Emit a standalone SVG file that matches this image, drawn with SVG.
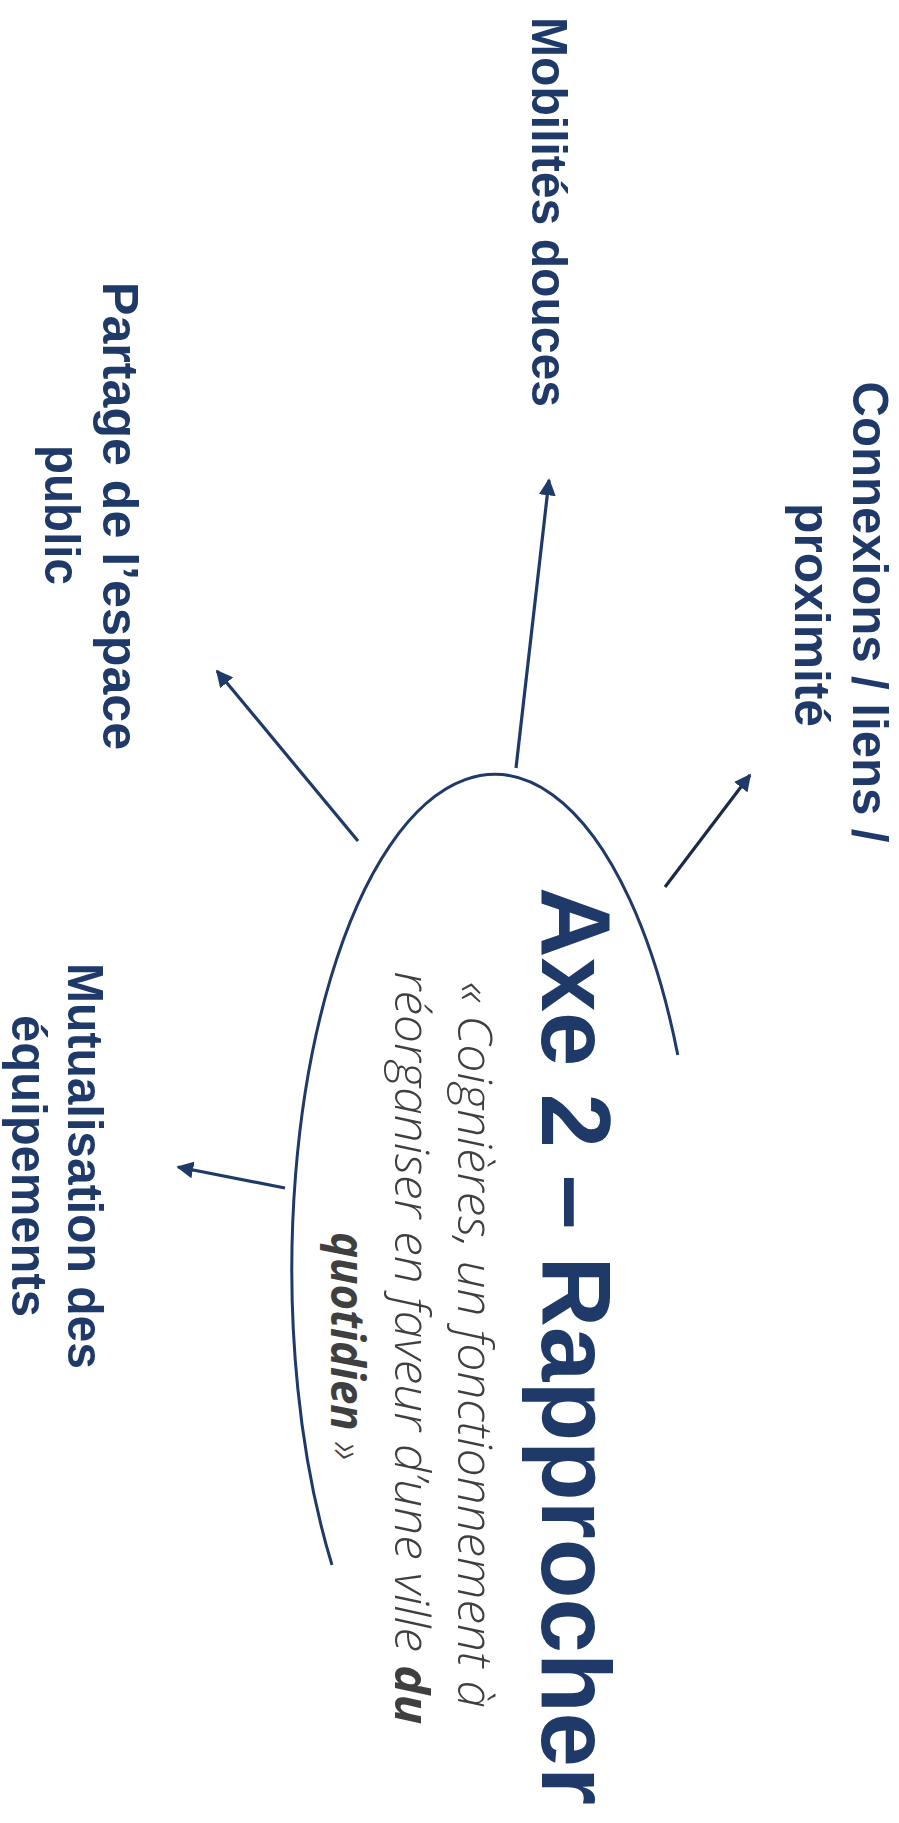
<svg xmlns="http://www.w3.org/2000/svg" width="899" height="1823" viewBox="0 0 899 1823">
  <style>
    .lbl { font-family: "Liberation Sans", Arial, sans-serif; font-weight: bold; font-size: 50px; fill: #1f3a68; text-anchor: middle; }
    .title { font-family: "Liberation Sans", Arial, sans-serif; font-weight: bold; font-size: 99px; fill: #1f3a68; text-anchor: middle; }
    .sub { font-family: "Open Sans", "Noto Sans", sans-serif; font-style: italic; font-weight: 300; font-size: 47px; fill: #3f3f3f; text-anchor: middle; }
    .b { font-weight: bold; }
    .conn { fill: none; stroke: #1f3a68; stroke-width: 3.2; marker-end: url(#arrow); }
    .arc { fill: none; stroke: #1f3a68; stroke-width: 3; }
  </style>
  <defs>
    <marker id="arrow" viewBox="0 0 10 10" refX="9" refY="5" markerWidth="17" markerHeight="17" markerUnits="userSpaceOnUse" orient="auto">
      <path d="M0,0 L10,5 L0,10 z" fill="#1f3a68"/>
    </marker>
  </defs>
  <rect width="899" height="1823" fill="#ffffff"/>

  <g id="center-node">
    <path class="arc" d="M 677.8 1055 A 203 495 0 1 0 332 1565"/>
    <text class="title" transform="translate(542,1346) rotate(90)" textLength="918" lengthAdjust="spacingAndGlyphs">Axe 2 – Rapprocher</text>
    <text class="sub" transform="translate(458,1345) rotate(90)" textLength="726" lengthAdjust="spacingAndGlyphs">« Coignières, un fonctionnement à</text>
    <text class="sub" transform="translate(395,1348) rotate(90)" textLength="753" lengthAdjust="spacingAndGlyphs">réorganiser en faveur d’une ville <tspan class="b">du</tspan></text>
    <text class="sub" transform="translate(331,1346) rotate(90)" textLength="228" lengthAdjust="spacingAndGlyphs"><tspan class="b">quotidien</tspan> »</text>
  </g>

  <g id="node-connexions">
    <text class="lbl" transform="translate(853,612) rotate(90)" textLength="461" lengthAdjust="spacingAndGlyphs">Connexions / liens /</text>
    <text class="lbl" transform="translate(795,615) rotate(90)" textLength="224" lengthAdjust="spacingAndGlyphs">proximité</text>
  </g>

  <g id="node-mobilites">
    <text class="lbl" transform="translate(532,212) rotate(90)" textLength="390" lengthAdjust="spacingAndGlyphs">Mobilités douces</text>
  </g>

  <g id="node-partage">
    <text class="lbl" transform="translate(103,516) rotate(90)" textLength="468" lengthAdjust="spacingAndGlyphs">Partage de l’espace</text>
    <text class="lbl" transform="translate(45,515) rotate(90)" textLength="140" lengthAdjust="spacingAndGlyphs">public</text>
  </g>

  <g id="node-mutualisation">
    <text class="lbl" transform="translate(68,1166) rotate(90)" textLength="406" lengthAdjust="spacingAndGlyphs">Mutualisation des</text>
    <text class="lbl" transform="translate(12,1166) rotate(90)" textLength="302" lengthAdjust="spacingAndGlyphs">équipements</text>
  </g>

  <g id="connectors">
    <line class="conn" x1="665" y1="887" x2="750" y2="775" style="stroke:#1b2a48"/>
    <line class="conn" x1="516" y1="768" x2="549" y2="480"/>
    <line class="conn" x1="358" y1="841" x2="217" y2="671"/>
    <line class="conn" x1="285" y1="1188" x2="178" y2="1167"/>
  </g>
</svg>
